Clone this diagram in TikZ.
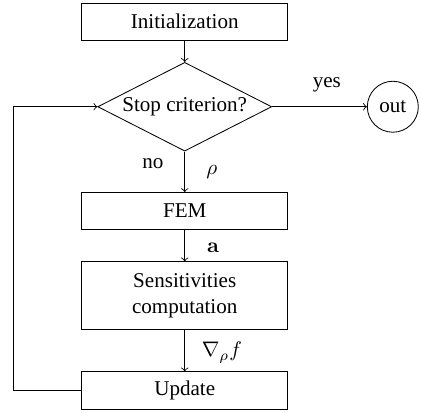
\documentclass[tikz,border=0pt]{standalone}
\usepackage[no-math]{fontspec}
\setmainfont{Liberation Serif}
\usepackage{amsfonts}
\usepackage{mathtools}
\usepackage{bm}
\usetikzlibrary{shapes.geometric}

\begin{document}
\begin{tikzpicture}[block/.style={draw, rectangle, minimum width=3.43cm, minimum height=0.62cm},
                decision/.style={draw, diamond, aspect=1.96, inner sep=0pt, minimum width=2.9cm, minimum height=1.48cm},
                terminal/.style={draw, circle, inner sep=0pt, minimum size=0.85cm}]
                \useasboundingbox (0,0) rectangle (7.02,-6.88);
                \node [block] (init) at (3.08,-0.36) {Initialization};
                \node [decision] (dec) at (3.08,-1.78) {Stop criterion?};
                \node [terminal] (out) at (6.55,-1.78) {out};
                \node [block] (fem) at (3.08,-3.52) {FEM};
                \node [block, minimum height=1.13cm, align=center] (sens) at (3.08,-4.93) {Sensitivities\\computation};
                \node [block] (upd) at (3.08,-6.51) {Update};
                \coordinate (loop) at (0.23,-6.51);
                \draw [->] (init) -- (dec);
                \draw [->] (dec) -- (out);
                \draw [->] (dec) -- (fem);
                \draw [->] (fem) -- (sens);
                \draw [->] (sens) -- (upd);
                \draw [->] (upd.west) -- (loop) |- (dec.west);
                \node (yes) at (5.45,-1.42) {yes};
                \node (no) at (2.55,-2.73) {no};
                \node (rho) at (3.53,-2.87) {$\rho$};
                \node (a) at (3.55,-4.13) {$\mathbf{a}$};
                \node (grad) at (3.7,-5.88) {$\nabla_\rho f$};
            \end{tikzpicture}
\end{document}
